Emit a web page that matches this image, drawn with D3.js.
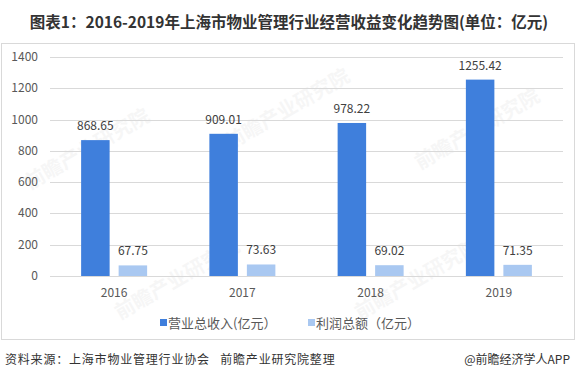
<!DOCTYPE html>
<html lang="zh">
<meta charset="utf-8">
<head>
    <style>
        body { margin: 0; background: #fff; font-family: "Noto Sans CJK SC", "Noto Sans", sans-serif; }
    </style>
    <script src="https://cdn.jsdelivr.net/npm/d3@7/dist/d3.min.js"></script>
</head>
<body>
</body>
<script>
    // data
    var years = ["2016", "2017", "2018", "2019"];
    var revenue = [868.65, 909.01, 978.22, 1255.42];
    var profit = [67.75, 73.63, 69.02, 71.35];
    var yTicks = [0, 200, 400, 600, 800, 1000, 1200, 1400];
    var seriesNames = ["营业总收入(亿元）", "利润总额（亿元）"];

    var width = 576, height = 378;
    var colors = ["#3f7fdc", "#a9c8f1"];

    var svg = d3.select("body").append("svg")
        .attr("width", width)
        .attr("height", height);

    // title
    svg.append("text")
        .attr("x", 289).attr("y", 28)
        .attr("text-anchor", "middle")
        .attr("font-size", 15.5).attr("font-weight", "bold")
        .attr("fill", "#333")
        .text("图表1：2016-2019年上海市物业管理行业经营收益变化趋势图(单位：亿元)");

    // chart frame
    svg.append("rect")
        .attr("x", 1.5).attr("y", 43.5)
        .attr("width", 573).attr("height", 296)
        .attr("fill", "none").attr("stroke", "#d9d9d9");

    var x = d3.scaleBand().domain(years).range([50, 563]);
    var y = d3.scaleLinear().domain([0, 1400]).range([276, 57]);

    // watermarks
    var wm = [[30, 190], [230, 150], [420, 170], [120, 320], [360, 320]];
    svg.selectAll(".wm").data(wm).enter().append("text")
        .attr("transform", function (d) { return "translate(" + d[0] + "," + d[1] + ") rotate(-30)"; })
        .attr("font-size", 20).attr("font-weight", "bold")
        .attr("fill", "#000").attr("opacity", 0.03)
        .text("前瞻产业研究院");

    // grid
    svg.append("g").selectAll("line").data(yTicks).enter().append("line")
        .attr("x1", 50).attr("x2", 563)
        .attr("y1", function (d) { return Math.round(y(d)) + 0.5; })
        .attr("y2", function (d) { return Math.round(y(d)) + 0.5; })
        .attr("stroke", "#d9d9d9");

    // y axis labels
    svg.append("g").selectAll("text").data(yTicks).enter().append("text")
        .attr("x", 38).attr("y", function (d) { return y(d) + 4; })
        .attr("text-anchor", "end")
        .attr("font-size", 12).attr("fill", "#595959")
        .text(function (d) { return d; });

    var barW = 28.5, gap = 9;
    var series = [revenue, profit];

    series.forEach(function (vals, s) {
        var off = x.bandwidth() / 2 - barW - gap / 2 + s * (barW + gap);
        var g = svg.append("g");
        g.selectAll("rect").data(vals).enter().append("rect")
            .attr("x", function (d, i) { return x(years[i]) + off; })
            .attr("y", function (d) { return y(d); })
            .attr("width", barW)
            .attr("height", function (d) { return y(0) - y(d); })
            .attr("fill", colors[s]);
        g.selectAll("text").data(vals).enter().append("text")
            .attr("x", function (d, i) { return x(years[i]) + off + barW / 2; })
            .attr("y", function (d) { return y(d) - 10; })
            .attr("text-anchor", "middle")
            .attr("font-size", 12).attr("fill", "#404040")
            .text(function (d) { return d.toFixed(2); });
    });

    // x labels
    svg.append("g").selectAll("text").data(years).enter().append("text")
        .attr("x", function (d) { return x(d) + x.bandwidth() / 2; })
        .attr("y", 297)
        .attr("text-anchor", "middle")
        .attr("font-size", 12).attr("fill", "#595959")
        .text(function (d) { return d; });

    // legend
    var legX = [160, 308];
    seriesNames.forEach(function (name, s) {
        svg.append("rect")
            .attr("x", legX[s]).attr("y", 319)
            .attr("width", 7).attr("height", 7)
            .attr("fill", colors[s]);
        svg.append("text")
            .attr("x", legX[s] + 8).attr("y", 327.5)
            .attr("font-size", 13).attr("fill", "#595959")
            .text(name);
    });

    // footer
    svg.append("text")
        .attr("x", 5).attr("y", 364)
        .attr("font-size", 12).attr("fill", "#333")
        .attr("letter-spacing", 0.8)
        .text("资料来源：上海市物业管理行业协会\u00a0\u00a0\u00a0前瞻产业研究院整理");
    svg.append("text")
        .attr("x", 570).attr("y", 364)
        .attr("text-anchor", "end")
        .attr("font-size", 12).attr("fill", "#333")
        .text("@前瞻经济学人APP");
</script>
</html>
